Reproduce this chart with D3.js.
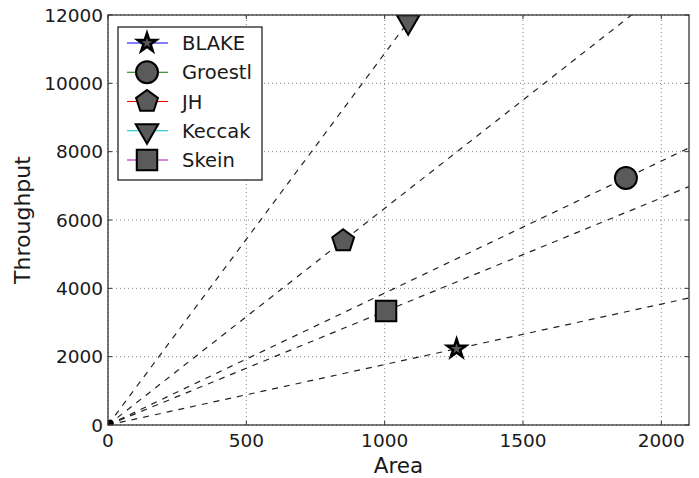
<!DOCTYPE html>
<html>
<head>
<meta charset="utf-8">
<script src="https://cdn.jsdelivr.net/npm/d3@7"></script>
<style>
  body { margin: 0; background: #fff; }
  text { font-family: "DejaVu Sans", sans-serif; fill: #1a1a1a; }
</style>
</head>
<body>
<div id="chart"></div>
<script>
// data
var names = ["BLAKE", "Groestl", "JH", "Keccak", "Skein"];
var area = [1260, 1872, 850, 1085, 1005];
var throughput = [2230, 7230, 5390, 11800, 3340];
var legendColors = ["#0000ff", "#008000", "#ff0000", "#00bfbf", "#bf00bf"];
var markers = ["star", "circle", "pentagon", "triangleDown", "square"];
var xTicks = [0, 500, 1000, 1500, 2000];
var yTicks = [0, 2000, 4000, 6000, 8000, 10000, 12000];

var width = 699, height = 478;
var margin = {left: 108, right: 10, top: 15, bottom: 53};

var svg = d3.select("#chart").append("svg")
  .attr("width", width)
  .attr("height", height);

var x = d3.scaleLinear().domain([0, 2100]).range([margin.left, width - margin.right]);
var y = d3.scaleLinear().domain([0, 12000]).range([height - margin.bottom, margin.top]);

svg.append("clipPath").attr("id", "plotclip")
  .append("rect")
  .attr("x", x(0)).attr("y", y(12000))
  .attr("width", x(2100) - x(0)).attr("height", y(0) - y(12000));

// grid
var grid = svg.append("g").attr("stroke", "#666").attr("stroke-width", 0.8)
  .attr("stroke-dasharray", "1,3");
xTicks.forEach(function(t) {
  grid.append("line").attr("x1", x(t)).attr("x2", x(t)).attr("y1", y(0)).attr("y2", y(12000));
});
yTicks.forEach(function(t) {
  grid.append("line").attr("x1", x(0)).attr("x2", x(2100)).attr("y1", y(t)).attr("y2", y(t));
});

// marker paths
var pentagon = function(r) {
  var pts = [];
  for (var i = 0; i < 5; i++) {
    var a = -Math.PI / 2 + i * 2 * Math.PI / 5;
    pts.push([r * Math.cos(a), r * Math.sin(a)]);
  }
  return "M" + pts.join("L") + "Z";
};
var markerPath = function(m) {
  if (m == "star") return d3.symbol(d3.symbolStar, 105)();
  if (m == "circle") return d3.symbol(d3.symbolCircle, 380)();
  if (m == "pentagon") return pentagon(11.5);
  if (m == "triangleDown") return d3.symbol(d3.symbolTriangle, 220)();
  if (m == "square") return d3.symbol(d3.symbolSquare, 420)();
};
var markerRotate = function(m) { return m == "triangleDown" ? " rotate(180)" : ""; };
var markerStroke = function(m) { return m == "star" ? 2.6 : 2; };

var plot = svg.append("g").attr("clip-path", "url(#plotclip)");

// dashed lines from origin through each point
names.forEach(function(n, i) {
  var slope = throughput[i] / area[i];
  plot.append("line")
    .attr("x1", x(0)).attr("y1", y(0))
    .attr("x2", x(2100)).attr("y2", y(2100 * slope))
    .attr("stroke", "#222").attr("stroke-width", 1.2)
    .attr("stroke-dasharray", "6,6");
});

plot.append("circle").attr("cx", x(0) + 2).attr("cy", y(0) - 2).attr("r", 3.5).attr("fill", "#000");

names.forEach(function(n, i) {
  plot.append("path")
    .attr("d", markerPath(markers[i]))
    .attr("transform", "translate(" + x(area[i]) + "," + y(throughput[i]) + ")" + markerRotate(markers[i]))
    .attr("fill", "#5a5a5a")
    .attr("stroke", "#000")
    .attr("stroke-width", markerStroke(markers[i]));
});

// frame
svg.append("rect")
  .attr("x", x(0)).attr("y", y(12000))
  .attr("width", x(2100) - x(0)).attr("height", y(0) - y(12000))
  .attr("fill", "none").attr("stroke", "#333").attr("stroke-width", 1.3);

// inward ticks on all sides
var ticks = svg.append("g").attr("stroke", "#333").attr("stroke-width", 1);
xTicks.forEach(function(t) {
  ticks.append("line").attr("x1", x(t)).attr("x2", x(t)).attr("y1", y(0)).attr("y2", y(0) - 4);
  ticks.append("line").attr("x1", x(t)).attr("x2", x(t)).attr("y1", y(12000)).attr("y2", y(12000) + 4);
});
yTicks.forEach(function(t) {
  ticks.append("line").attr("x1", x(0)).attr("x2", x(0) + 4).attr("y1", y(t)).attr("y2", y(t));
  ticks.append("line").attr("x1", x(2100)).attr("x2", x(2100) - 4).attr("y1", y(t)).attr("y2", y(t));
});

// tick labels
svg.selectAll("text.xt").data(xTicks).enter().append("text")
  .attr("class", "xt")
  .attr("x", function(d) { return x(d); })
  .attr("y", y(0) + 22)
  .attr("text-anchor", "middle")
  .attr("font-size", 18.5)
  .text(function(d) { return d; });

svg.selectAll("text.yt").data(yTicks).enter().append("text")
  .attr("class", "yt")
  .attr("x", x(0) - 5)
  .attr("y", function(d) { return y(d) + 6.5; })
  .attr("text-anchor", "end")
  .attr("font-size", 18.5)
  .text(function(d) { return d; });

// axis titles
svg.append("text")
  .attr("x", (x(0) + x(2100)) / 2).attr("y", y(0) + 48)
  .attr("text-anchor", "middle").attr("font-size", 21.5)
  .text("Area");

svg.append("text")
  .attr("transform", "translate(30," + (y(6000)) + ") rotate(-90)")
  .attr("text-anchor", "middle").attr("font-size", 22)
  .text("Throughput");

// legend
var legend = svg.append("g").attr("transform", "translate(118,27)");
legend.append("rect")
  .attr("width", 144).attr("height", 153)
  .attr("fill", "#fff").attr("stroke", "#222").attr("stroke-width", 1.3);

names.forEach(function(n, i) {
  var ly = 16 + i * 29.25;
  legend.append("line")
    .attr("x1", 9).attr("x2", 50).attr("y1", ly).attr("y2", ly)
    .attr("stroke", legendColors[i]).attr("stroke-width", 1);
  legend.append("path")
    .attr("d", markerPath(markers[i]))
    .attr("transform", "translate(29," + ly + ")" + markerRotate(markers[i]))
    .attr("fill", "#5a5a5a").attr("stroke", "#000")
    .attr("stroke-width", markerStroke(markers[i]));
  legend.append("text")
    .attr("x", 64).attr("y", ly + 7)
    .attr("font-size", 19.5)
    .text(n);
});
</script>
</body>
</html>
